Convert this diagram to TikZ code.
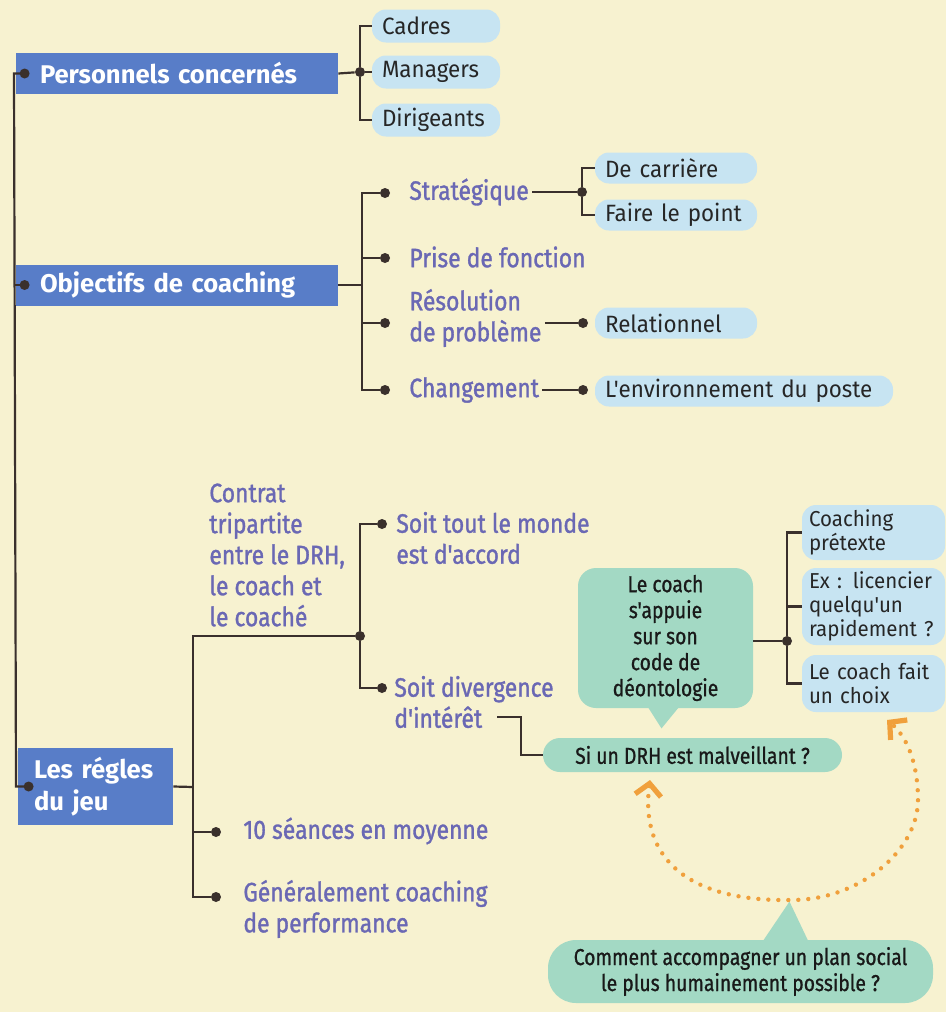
\documentclass[tikz,border=0pt]{standalone}
\usepackage{fontspec}
\setmainfont{Fira Sans}
\newfontfamily\condfont{Fira Sans}[FakeStretch=0.86,FakeBold=1.2]
\newfontfamily\greenfont{Fira Sans}[FakeStretch=0.84,FakeBold=0.9]
\newfontfamily\pillfont{Fira Sans}[FakeStretch=0.95]
\usepackage{xcolor}
\usepackage{tikz}
\usetikzlibrary{arrows.meta,positioning}
\definecolor{paper}{HTML}{F7F2D0}
\definecolor{headblue}{HTML}{587DC8}
\definecolor{pillblue}{HTML}{C7E4F2}
\definecolor{mint}{HTML}{A3D9C4}
\definecolor{violet}{HTML}{6A68B4}
\definecolor{ink}{HTML}{3A302C}
\definecolor{dotorange}{HTML}{F0A03C}
\hyphenpenalty=10000
\exhyphenpenalty=10000

\begin{document}
\begin{tikzpicture}[x=0.5pt,y=-0.5pt,
        link/.style={draw=ink, line width=1.1pt},
        joint/.style={circle, fill=ink, inner sep=0pt, minimum size=5pt},
        header/.style={fill=headblue, text=white, inner xsep=12pt, inner ysep=0pt,
              align=left, font=\bfseries\fontsize{12.8}{16}\selectfont},
        pill/.style={fill=pillblue, rounded corners=7pt, inner xsep=5pt, inner ysep=0pt,
              align=left, text=black!85, font=\pillfont\fontsize{11.8}{12}\selectfont},
        smallpill/.style={pill, inner xsep=3.5pt, font=\pillfont\fontsize{10.8}{12}\selectfont},
        branch/.style={text=violet, align=left, inner sep=1.5pt, anchor=west,
              font=\condfont\fontsize{13.3}{15.5}\selectfont},
        bubble/.style={fill=mint, align=center, inner sep=0pt, text=black!90,
              font=\greenfont\fontsize{11.5}{13}\selectfont},
        orangeloop/.style={draw=dotorange, line width=2.2pt, line cap=round,
              dash pattern=on 0pt off 5pt}
    ]
        \fill[paper] (0,0) rectangle (946,1012);
        \useasboundingbox (0,0) rectangle (946,1012);
        \coordinate (spine) at (5,0);

        % main blocks
        \node[header, text width=137pt, minimum height=20.5pt] (pers) at (177,73.5) {Personnels concernés};
        \node[header, text width=137pt, minimum height=20.5pt] (obj) at (177,285) {Objectifs de coaching};
        \node[header, inner xsep=8pt, text width=61.5pt, minimum height=38.5pt] (regles) at (95.5,786.5) {Les régles\\du jeu};

        % personnels
        \node[pill, text width=54pt, minimum height=16.5pt] (cadres) at (436,26) {Cadres};
        \node[pill, text width=54pt, minimum height=16.5pt] (manag) at (436,72) {Managers};
        \node[pill, text width=54pt, minimum height=16.5pt] (dirig) at (436,120) {Dirigeants};
        \node[joint] (pfork) at (360,72) {};

        % objectifs
        \node[branch] (strat) at (406,192) {Stratégique};
        \node[branch] (prise) at (406,257) {Prise de fonction};
        \node[branch] (resol) at (406,318) {Résolution\\de problème};
        \node[branch] (chang) at (406,390) {Changement};
        \node[pill, text width=71pt, minimum height=15.5pt] (carr) at (676,168) {De carrière};
        \node[pill, text width=71pt, minimum height=15.5pt] (point) at (676,215) {Faire le point};
        \node[pill, text width=71pt, minimum height=15.5pt] (relat) at (676,323) {Relationnel};
        \node[pill, text width=139pt, minimum height=15.5pt] (envir) at (744,391) {L'environnement du poste};
        \coordinate (ofork) at (362,285);
        \node[joint] (sdot) at (385,193) {};
        \node[joint] (fdot) at (385,258) {};
        \node[joint] (rsdot) at (385,323) {};
        \node[joint] (chdot) at (385,390) {};
        \node[joint] (sfork) at (582,192) {};
        \node[joint] (resdot) at (583,323) {};
        \node[joint] (envdot) at (583,390) {};

        % regles du jeu
        \node[branch] (contrat) at (206,555) {Contrat\\tripartite\\entre le DRH,\\le coach et\\le coaché};
        \node[branch] (accord) at (393,538) {Soit tout le monde\\est d'accord};
        \node[branch] (diverg) at (391,702) {Soit divergence\\d'intérêt};
        \node[branch] (seances) at (240,831) {10 séances en moyenne};
        \node[branch] (generale) at (240,909) {Généralement coaching\\de performance};
        \coordinate (rfork) at (193,787);
        \node[joint] (cfork) at (360,636) {};
        \node[joint] (tdot) at (382,524) {};
        \node[joint] (ddot) at (382,688) {};
        \node[joint] (sedot) at (216,832) {};
        \node[joint] (gedot) at (216,897) {};
        \coordinate (dstart) at (497,717);

        % bulles
        \node[bubble, rounded corners=9pt, minimum width=87.5pt, minimum height=70pt] (coach) at (665.5,638)
            {Le coach\\s'appuie\\sur son\\code de\\déontologie};
        \fill[mint] ([xshift=-9pt,yshift=1pt]coach.south) -- ([xshift=-2pt,yshift=-10pt]coach.south)
            -- ([xshift=7pt,yshift=1pt]coach.south) -- cycle;
        \node[bubble, rounded corners=8.5pt, minimum width=149.5pt, minimum height=17pt] (drh) at (692.5,755)
            {Si un DRH est malveillant ?};
        \node[bubble, rounded corners=14pt, minimum width=192.5pt, minimum height=31.5pt] (plan) at (740.5,971.5)
            {Comment accompagner un plan social\\le plus humainement possible ?};
        \fill[mint] ([xshift=11pt,yshift=-1pt]plan.north) -- ([xshift=24.5pt,yshift=19pt]plan.north)
            -- ([xshift=34pt,yshift=-1pt]plan.north) -- cycle;
        \node[smallpill, text width=64.5pt, minimum height=27.5pt] (cpre) at (873.5,532.5) {Coaching\\prétexte};
        \node[smallpill, text width=64.5pt, minimum height=38.5pt] (ex) at (873.5,606.5) {Ex : licencier\\quelqu'un\\rapidement ?};
        \node[smallpill, text width=64.5pt, minimum height=28.5pt] (choix) at (873.5,683.5) {Le coach fait\\un choix};
        \node[joint] (kfork) at (787,641) {};

        % connecteurs
        \draw[link] ([xshift=4.5pt]pers.west) -- ([xshift=4.5pt]pers.west -| spine)
            -- ([xshift=5.5pt]regles.west -| spine) -- ([xshift=5.5pt]regles.west);
        \draw[link] ([xshift=4.5pt]obj.west) -- ([xshift=4.5pt]obj.west -| spine);
        \node[joint] (pdot) at ([xshift=4.5pt]pers.west) {};
        \node[joint] (odot) at ([xshift=4.5pt]obj.west) {};
        \node[joint] (rdot) at ([xshift=5.5pt]regles.west) {};

        \draw[link] (pers.east) -- (pfork);
        \draw[link] (cadres.west) -| (pfork);
        \draw[link] (dirig.west) -| (pfork);
        \draw[link] (pfork) -- (manag.west);

        \draw[link] (obj.east) -- (ofork);
        \draw[link] (sdot) -| (ofork);
        \draw[link] (chdot) -| (ofork);
        \draw[link] (fdot) -- (fdot -| ofork);
        \draw[link] (rsdot) -- (rsdot -| ofork);
        \draw[link] (strat.east) -- (sfork);
        \draw[link] (carr.west) -| (sfork);
        \draw[link] (point.west) -| (sfork);
        \draw[link] (resol.east |- resdot) -- (resdot);
        \draw[link] (chang.east) -- (envdot);

        \draw[link] (regles.east) -- (rfork);
        \draw[link] (cfork) -| (rfork);
        \draw[link] (gedot) -| (rfork);
        \draw[link] (sedot) -- (sedot -| rfork);
        \draw[link] (tdot) -| (cfork);
        \draw[link] (ddot) -| (cfork);
        \draw[link] (dstart) -| ([xshift=-11pt]drh.west) -- (drh.west);

        \draw[link] (coach.east |- kfork) -- (kfork);
        \draw[link] (cpre.west) -| (kfork);
        \draw[link] (choix.west) -| (kfork);
        \draw[link] (ex.west) -- (ex.west -| kfork);

        % boucle orange
        \draw[orangeloop, {Straight Barb[length=6pt,width=13pt,line width=2.6pt]}-{Straight Barb[length=6pt,width=13pt,line width=2.6pt]}]
            (650,780) .. controls (640,860) and (690,902) .. (792,900)
            .. controls (860,900) and (918,850) .. (918,800)
            .. controls (918,760) and (905,735) .. (887,720);
    \end{tikzpicture}
\end{document}
